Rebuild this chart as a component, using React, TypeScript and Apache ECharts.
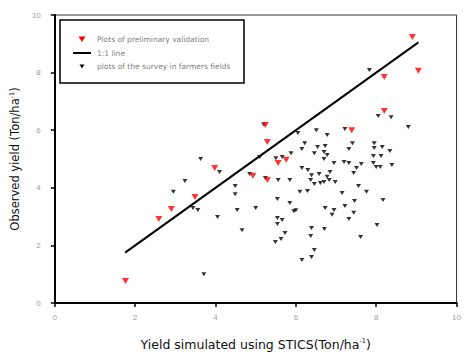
import React, { useEffect, useRef } from "react";
import * as echarts from "echarts";

const validationX = [1.76, 2.59, 2.9, 3.49, 3.98, 4.93, 5.24, 5.29, 5.29, 5.56, 5.76, 7.39, 8.2, 8.2, 8.9, 9.05];
const validationY = [0.76, 2.92, 3.26, 3.68, 4.69, 4.42, 6.18, 5.59, 4.27, 4.86, 4.97, 6.0, 7.85, 6.67, 9.24, 8.06];

const surveyX = [
  3.63, 3.24, 2.95, 3.44, 3.56, 4.05, 3.71, 4.1, 4.49, 4.49, 4.54, 4.66, 5.0, 4.85,
  5.2, 6.05, 6.51, 6.22, 6.15, 6.54, 6.7, 6.46, 5.1, 5.5, 5.66, 5.88, 6.7, 6.15, 6.3,
  6.39, 6.58, 5.24, 5.56, 5.85, 6.37, 6.46, 6.61, 6.7, 6.1, 6.29, 5.54, 5.85,
  5.95, 6.0, 5.54, 5.66, 5.54, 6.39, 6.37, 6.71, 5.73, 5.63, 5.49, 6.46, 6.39, 6.15,
  8.05, 8.37, 8.8, 7.22, 6.78, 7.41, 7.95, 6.73, 7.32, 7.95, 8.15, 8.34, 6.78, 7.93,
  8.12, 7.2, 7.32, 6.95, 7.63, 7.93, 8.0, 8.1, 8.39, 7.51, 6.85, 7.44, 6.78, 6.83,
  6.98, 7.56, 7.76, 7.15, 7.46, 8.17,
  6.73, 6.95, 6.9, 7.22, 7.44, 7.32, 8.02, 7.61, 7.83,
];
const surveyY = [
  5.0, 4.24, 3.86, 3.3, 3.23, 2.99, 1.0, 4.55, 4.06, 3.78, 3.23, 2.53, 3.3, 4.48,
  6.2, 5.9, 6.0, 5.55, 5.35, 5.42, 5.24, 5.2, 5.07, 5.03, 5.07, 5.2, 5.0, 4.69, 4.62,
  4.44, 4.48, 4.34, 4.27, 4.27, 4.27, 4.13, 4.17, 4.2, 3.86, 3.89, 3.61, 3.47,
  3.19, 3.22, 2.95, 2.88, 2.74, 2.6, 2.33, 2.57, 2.43, 2.22, 2.12, 1.84, 1.6, 1.49,
  6.49, 6.45, 6.11, 6.04, 5.83, 5.55, 5.55, 5.45, 5.35, 5.38, 5.42, 5.28, 5.14, 5.1,
  5.1, 4.9, 4.86, 4.86, 4.83, 4.86, 4.72, 4.72, 4.79, 4.69, 4.55, 4.51, 4.38, 4.27,
  4.2, 4.06, 3.86, 3.82, 3.54, 3.58,
  3.3, 3.23, 3.06, 3.37, 3.13, 2.92, 2.71, 2.29, 8.09,
];

const lineX = [1.75, 9.05];
const lineY = [1.75, 9.05];

const legendLabels = [
  "Plots of preliminary validation",
  "1:1 line",
  "plots of the survey in farmers fields",
];
const xTicks = [0, 2, 4, 6, 8, 10];
const yTicks = [0, 2, 4, 6, 8, 10];

export default function App() {
  const ref = useRef<HTMLDivElement>(null);
  useEffect(() => {
    if (!ref.current) return;
    const chart = echarts.init(ref.current, undefined, { renderer: "svg" });
    const font = "Liberation Sans, Arial, sans-serif";
    const nameFont = "DejaVu Sans, sans-serif";
    const nameRich = {
      sup: { fontSize: 6.5, verticalAlign: "top" as const, padding: [0, 0, 7, 0], color: "#111", fontFamily: nameFont },
    };
    chart.setOption({
      animation: false,
      backgroundColor: "#fff",
      grid: { left: 52, right: 2, top: 15, bottom: 55, show: true, borderColor: "#333", borderWidth: 1 },
      xAxis: {
        type: "value",
        min: xTicks[0],
        max: xTicks[xTicks.length - 1],
        interval: 2,
        splitLine: { show: false },
        axisLine: { show: true, lineStyle: { color: "#000", width: 2 } },
        axisTick: { show: true, inside: false, length: 4, lineStyle: { color: "#000", width: 1.5 } },
        axisLabel: { color: "#a0a0a0", fontSize: 8, margin: 10, fontFamily: font },
        name: "Yield simulated using STICS(Ton/ha{sup|-1})",
        nameLocation: "middle",
        nameGap: 34,
        nameTextStyle: { color: "#111", fontSize: 12.5, fontFamily: nameFont, rich: nameRich },
      },
      yAxis: {
        type: "value",
        min: yTicks[0],
        max: yTicks[yTicks.length - 1],
        interval: 2,
        splitLine: { show: false },
        axisLine: { show: true, lineStyle: { color: "#000", width: 2 } },
        axisTick: { show: true, inside: false, length: 4, lineStyle: { color: "#000", width: 1.5 } },
        axisLabel: { color: "#a0a0a0", fontSize: 8, margin: 14, fontFamily: font },
        name: "Observed yield (Ton/ha{sup|-1})",
        nameLocation: "middle",
        nameGap: 27,
        nameTextStyle: { color: "#111", fontSize: 11.5, fontFamily: nameFont, rich: nameRich },
      },
      series: [
        {
          name: legendLabels[1],
          type: "line",
          data: lineX.map((x, i) => [x, lineY[i]]),
          symbol: "none",
          lineStyle: { color: "#000", width: 2 },
          z: 2,
        },
        {
          name: legendLabels[2],
          type: "scatter",
          data: surveyX.map((x, i) => [x, surveyY[i]]),
          symbol: "triangle",
          symbolRotate: 180,
          symbolSize: [5, 4],
          itemStyle: { color: "#000" },
          z: 3,
        },
        {
          name: legendLabels[0],
          type: "scatter",
          data: validationX.map((x, i) => [x, validationY[i]]),
          symbol: "triangle",
          symbolRotate: 180,
          symbolSize: [7, 6],
          itemStyle: { color: "#ff0000" },
          z: 4,
        },
      ],
      graphic: [
        {
          type: "rect",
          shape: { x: 60, y: 20, width: 184, height: 63 },
          style: { fill: "#fff", stroke: "#000", lineWidth: 1.5 },
          z: 10,
        },
        {
          type: "polygon",
          shape: { points: [[78.5, 36.5], [85.5, 36.5], [82, 42]] },
          style: { fill: "#ff0000" },
          z: 11,
        },
        {
          type: "line",
          shape: { x1: 73, y1: 53, x2: 91, y2: 53 },
          style: { stroke: "#000", lineWidth: 2 },
          z: 11,
        },
        {
          type: "polygon",
          shape: { points: [[79.5, 64.5], [84.5, 64.5], [82, 68.5]] },
          style: { fill: "#000" },
          z: 11,
        },
        ...legendLabels.map((t, i) => ({
          type: "text",
          x: 97,
          y: [39, 53, 66][i],
          style: {
            text: t,
            fill: "#808080",
            fontSize: 7.5,
            fontFamily: nameFont,
            verticalAlign: "middle",
            align: "left",
          },
          z: 11,
        })),
      ],
    });
    return () => chart.dispose();
  }, []);
  return <div ref={ref} style={{ width: 464, height: 358, position: "absolute", left: 0, top: 0 }} />;
}
